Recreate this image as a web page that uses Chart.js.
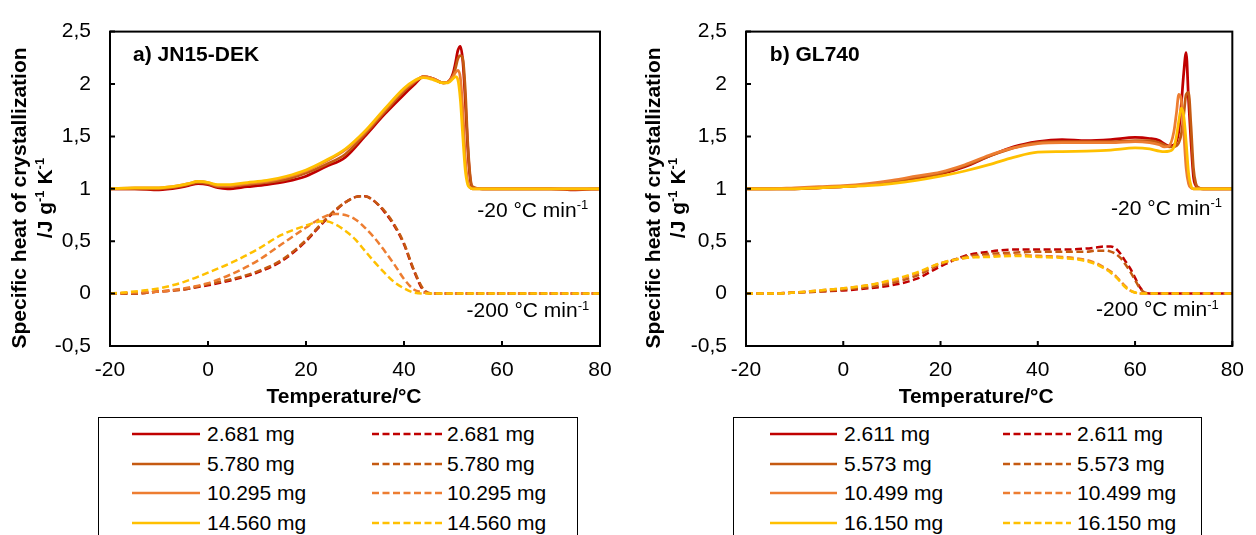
<!DOCTYPE html>
<html>
<head>
<meta charset="utf-8">
<script src="https://cdn.jsdelivr.net/npm/chart.js@4.4.1/dist/chart.umd.min.js"></script>
<style>
  html, body { margin: 0; padding: 0; background: #fff; width: 1256px; height: 535px; overflow: hidden; }
  body { position: relative; font-family: "Liberation Sans", Arial, sans-serif; }
  canvas { position: absolute; top: 0; }
  .legend { position: absolute; top: 417px; height: 140px; border: 1.5px solid #000; box-sizing: border-box; background: #fff; }
  .row { position: absolute; height: 24px; line-height: 24px; font-size: 21px; color: #000; white-space: nowrap; }
  .row svg { position: absolute; top: 9px; }
  .row span { position: absolute; top: 0; }
</style>
</head>
<body>
<canvas id="cA" width="628" height="410" style="left:0px"></canvas>
<canvas id="cB" width="628" height="410" style="left:628px"></canvas>
<div class="legend" id="legA" style="left:98px; width:480px;"></div>
<div class="legend" id="legB" style="left:733px; width:469px;"></div>
<script>
// ---------- DATA ----------
const seriesColors = ['#C00000', '#C55A11', '#ED7D31', '#FFC000'];
const massesA = ['2.681 mg', '5.780 mg', '10.295 mg', '14.560 mg'];
const massesB = ['2.611 mg', '5.573 mg', '10.499 mg', '16.150 mg'];
const xTicks = [-20, 0, 20, 40, 60, 80];
const yTicks = [-0.5, 0, 0.5, 1, 1.5, 2, 2.5];

// a) JN15-DEK, -20 °C/min (solid)
const tempA20 = [-20,-15,-10,-6,-4,-2,0,2,4,8,12,16,20,24,28,32,36,40,42,44,46,48,49,50,50.5,51,51.5,52,52.5,53,53.5,54,56,60,70,75,80];
const jn20_2681  = [1.00,1.00,0.99,1.01,1.03,1.05,1.04,1.01,1.00,1.02,1.04,1.07,1.12,1.21,1.30,1.50,1.71,1.90,1.99,2.07,2.05,2.01,2.02,2.10,2.20,2.32,2.36,2.22,1.85,1.40,1.10,1.01,1.00,1.00,1.00,0.99,1.00];
const jn20_5780  = [1.00,1.00,1.00,1.02,1.04,1.06,1.05,1.02,1.02,1.04,1.06,1.09,1.15,1.23,1.33,1.52,1.73,1.93,2.01,2.07,2.05,2.01,2.02,2.08,2.15,2.24,2.27,2.24,1.95,1.45,1.12,1.02,1.00,1.00,1.00,1.00,1.00];
const jn20_10295 = [1.00,1.01,1.01,1.03,1.05,1.07,1.06,1.03,1.03,1.05,1.07,1.11,1.17,1.26,1.37,1.54,1.75,1.95,2.02,2.07,2.05,2.01,2.02,2.07,2.11,2.13,2.06,1.75,1.30,1.07,1.01,1.00,1.00,1.00,1.00,1.00,1.00];
const jn20_14560 = [1.00,1.01,1.01,1.03,1.05,1.07,1.06,1.04,1.04,1.06,1.08,1.12,1.18,1.27,1.38,1.55,1.76,1.96,2.03,2.06,2.04,2.01,2.01,2.05,2.07,2.04,1.85,1.50,1.18,1.04,1.01,1.00,1.00,1.00,1.00,1.00,1.00];

// a) JN15-DEK, -200 °C/min (dashed)
const tempA200 = [-20,-15,-10,-5,0,5,10,15,20,22,24,26,28,30,32,34,36,38,40,42,44,46,50,60,70,80];
const jn200_2681  = [0.00,0.00,0.02,0.04,0.08,0.13,0.20,0.31,0.50,0.60,0.70,0.79,0.87,0.92,0.93,0.88,0.78,0.65,0.47,0.22,0.03,0.00,0.00,0.00,0.00,0.00];
const jn200_5780  = [0.00,0.00,0.02,0.04,0.09,0.14,0.21,0.32,0.51,0.61,0.71,0.80,0.87,0.92,0.93,0.88,0.79,0.66,0.48,0.23,0.04,0.00,0.00,0.00,0.00,0.00];
const jn200_10295 = [0.00,0.01,0.02,0.05,0.10,0.19,0.31,0.47,0.63,0.69,0.74,0.76,0.75,0.71,0.63,0.53,0.41,0.28,0.14,0.04,0.01,0.00,0.00,0.00,0.00,0.00];
const jn200_14560 = [0.00,0.02,0.05,0.11,0.20,0.30,0.42,0.56,0.65,0.68,0.69,0.66,0.60,0.52,0.41,0.30,0.20,0.11,0.05,0.01,0.00,0.00,0.00,0.00,0.00,0.00];

// b) GL740, -20 °C/min (solid)
const tempB20 = [-20,-15,-10,-5,0,5,10,15,20,25,30,35,40,45,50,55,60,63,65,66,67,68,68.5,69,69.5,70,70.5,71,71.5,72,72.5,73,74,76,80];
const gl20_2611  = [1.00,1.00,1.00,1.01,1.02,1.04,1.07,1.10,1.14,1.21,1.31,1.40,1.45,1.47,1.46,1.47,1.49,1.48,1.46,1.43,1.41,1.42,1.45,1.55,1.80,2.10,2.30,1.85,1.45,1.12,1.03,1.01,1.00,1.00,1.00];
const gl20_5573  = [1.00,1.00,1.00,1.01,1.02,1.04,1.07,1.11,1.15,1.22,1.31,1.39,1.44,1.45,1.45,1.45,1.46,1.46,1.44,1.42,1.40,1.40,1.41,1.44,1.52,1.70,1.90,1.92,1.60,1.20,1.05,1.01,1.00,1.00,1.00];
const gl20_10499 = [1.00,1.00,1.01,1.02,1.03,1.05,1.08,1.12,1.16,1.23,1.32,1.39,1.43,1.44,1.44,1.44,1.45,1.44,1.42,1.40,1.41,1.55,1.72,1.90,1.85,1.55,1.20,1.05,1.01,1.00,1.00,1.00,1.00,1.00,1.00];
const gl20_16150 = [1.00,1.00,1.00,1.01,1.02,1.03,1.05,1.08,1.12,1.17,1.23,1.30,1.35,1.355,1.36,1.37,1.39,1.38,1.36,1.355,1.36,1.40,1.50,1.65,1.77,1.70,1.45,1.15,1.03,1.00,1.00,1.00,1.00,1.00,1.00];

// b) GL740, -200 °C/min (dashed)
const tempB200 = [-20,-15,-10,-5,0,5,10,15,20,25,30,35,40,45,50,52,54,55,56,57,58,59,60,61,62,63,65,70,80];
const gl200_2611  = [0.00,0.00,0.01,0.02,0.03,0.05,0.08,0.14,0.26,0.36,0.40,0.42,0.42,0.42,0.43,0.44,0.45,0.45,0.43,0.38,0.31,0.24,0.15,0.06,0.01,0.00,0.00,0.00,0.00];
const gl200_5573  = [0.00,0.00,0.01,0.02,0.04,0.06,0.10,0.17,0.28,0.35,0.38,0.39,0.40,0.40,0.40,0.41,0.41,0.40,0.38,0.34,0.28,0.21,0.13,0.05,0.01,0.00,0.00,0.00,0.00];
const gl200_10499 = [0.00,0.00,0.01,0.03,0.05,0.08,0.12,0.19,0.29,0.34,0.36,0.37,0.36,0.35,0.32,0.29,0.24,0.21,0.17,0.12,0.07,0.03,0.01,0.00,0.00,0.00,0.00,0.00,0.00];
const gl200_16150 = [0.00,0.00,0.01,0.03,0.05,0.08,0.13,0.20,0.29,0.34,0.35,0.36,0.35,0.34,0.31,0.28,0.23,0.20,0.16,0.11,0.06,0.03,0.01,0.00,0.00,0.00,0.00,0.00,0.00];

// ---------- RENDERING ----------
const FONT = '"Liberation Sans", Arial, sans-serif';
Chart.defaults.font.family = FONT;
Chart.defaults.color = '#000';

function pts(xs, ys) { return xs.map((x, i) => ({ x: x, y: ys[i] })); }

function buildDatasets(tSolid, solids, tDash, dashes, labels) {
  const ds = [];
  solids.forEach((s, i) => ds.push({
    label: labels[i], data: pts(tSolid, s), borderColor: seriesColors[i],
    borderWidth: 2.75, pointRadius: 0, cubicInterpolationMode: 'monotone',
    borderJoinStyle: 'round', order: 10 - i
  }));
  dashes.forEach((s, i) => ds.push({
    label: labels[i], data: pts(tDash, s), borderColor: seriesColors[i],
    borderWidth: 2.5, borderDash: [7, 3.5], pointRadius: 0, cubicInterpolationMode: 'monotone',
    order: 20 - i
  }));
  return ds;
}

function drawRich(ctx, parts, x, y, align, size, weight) {
  const sup = size * 0.62;
  let total = 0;
  const widths = parts.map(p => {
    ctx.font = weight + ' ' + (p.sup ? sup : size) + 'px ' + FONT;
    const w = ctx.measureText(p.t).width; total += w; return w;
  });
  let cx = align === 'right' ? x - total : (align === 'center' ? x - total / 2 : x);
  ctx.textAlign = 'left';
  ctx.textBaseline = 'alphabetic';
  parts.forEach((p, i) => {
    ctx.font = weight + ' ' + (p.sup ? sup : size) + 'px ' + FONT;
    ctx.fillText(p.t, cx, p.sup ? y - size * 0.36 : y);
    cx += widths[i];
  });
}

const deco = {
  id: 'deco',
  afterDatasetsDraw(chart, args, o) {
    const { ctx, chartArea: a, scales: { x, y } } = chart;
    ctx.save();
    ctx.strokeStyle = '#000';
    ctx.lineWidth = 2;
    ctx.strokeRect(a.left, a.top, a.right - a.left, a.bottom - a.top);
    ctx.beginPath();
    xTicks.forEach(v => { const px = x.getPixelForValue(v); ctx.moveTo(px, a.bottom); ctx.lineTo(px, a.bottom - 5); });
    yTicks.forEach(v => { const py = y.getPixelForValue(v); ctx.moveTo(a.left, py); ctx.lineTo(a.left + 5, py); });
    ctx.stroke();
    ctx.fillStyle = '#000';
    drawRich(ctx, [{ t: o.panel }], x.getPixelForValue(o.panelAt[0]), y.getPixelForValue(o.panelAt[1]), 'left', 21, 'bold');
    o.notes.forEach(n => drawRich(ctx, n.parts, x.getPixelForValue(n.at[0]), y.getPixelForValue(n.at[1]), 'right', 21, 'normal'));
    drawRich(ctx, [{ t: 'Temperature/°C' }], (a.left + a.right) / 2 + o.xTitleDx, o.xTitleBase, 'center', 21, 'bold');
    const cy = o.yTitleCenter;
    [[o.yTitleL1, [{ t: 'Specific heat of crystallization' }]],
     [o.yTitleL2, [{ t: '/J g' }, { t: '-1', sup: true }, { t: ' K' }, { t: '-1', sup: true }]]]
      .forEach(([bx, parts]) => {
        ctx.save();
        ctx.translate(bx, cy);
        ctx.rotate(-Math.PI / 2);
        drawRich(ctx, parts, 0, 0, 'center', 21, 'bold');
        ctx.restore();
      });
    ctx.restore();
  }
};

function makeChart(id, datasets, yWidth, padRight, decoOpts) {
  return new Chart(document.getElementById(id), {
    type: 'line',
    data: { datasets: datasets },
    options: {
      responsive: false, animation: false, devicePixelRatio: 1,
      layout: { padding: { left: 0, right: padRight, top: 17, bottom: 0 } },
      plugins: { legend: { display: false }, tooltip: { enabled: false }, deco: decoOpts },
      scales: {
        x: {
          type: 'linear', min: -20, max: 80,
          afterBuildTicks: s => { s.ticks = xTicks.map(v => ({ value: v })); },
          afterFit: s => { s.height = 64; },
          grid: { display: false, drawTicks: false }, border: { display: false },
          ticks: { font: { size: 21 }, color: '#000', padding: 12, maxRotation: 0 }
        },
        y: {
          type: 'linear', min: -0.5, max: 2.5,
          afterBuildTicks: s => { s.ticks = yTicks.map(v => ({ value: v })); },
          afterFit: s => { s.width = yWidth; },
          grid: { display: false, drawTicks: false }, border: { display: false },
          ticks: { font: { size: 21 }, color: '#000', padding: 19, callback: v => String(v).replace('.', ',') }
        }
      }
    },
    plugins: [deco]
  });
}

const minus1 = { t: '-1', sup: true };
makeChart('cA',
  buildDatasets(tempA20, [jn20_2681, jn20_5780, jn20_10295, jn20_14560], tempA200, [jn200_2681, jn200_5780, jn200_10295, jn200_14560], massesA),
  110, 28,
  {
    panel: 'a) JN15-DEK', panelAt: [-15.3, 2.215],
    notes: [{ parts: [{ t: '-20 °C min' }, minus1], at: [77.6, 0.734] },
            { parts: [{ t: '-200 °C min' }, minus1], at: [77.8, -0.224] }],
    xTitleDx: -11, xTitleBase: 403, yTitleCenter: 198, yTitleL1: 26, yTitleL2: 51.5
  });
makeChart('cB',
  buildDatasets(tempB20, [gl20_2611, gl20_5573, gl20_10499, gl20_16150], tempB200, [gl200_2611, gl200_5573, gl200_10499, gl200_16150], massesB),
  118, 20,
  {
    panel: 'b) GL740', panelAt: [-15.1, 2.215],
    notes: [{ parts: [{ t: '-20 °C min' }, minus1], at: [77.9, 0.754] },
            { parts: [{ t: '-200 °C min' }, minus1], at: [77.2, -0.217] }],
    xTitleDx: -13, xTitleBase: 403, yTitleCenter: 198, yTitleL1: 660 - 628, yTitleL2: 685 - 628
  });

// ---------- LEGENDS (HTML) ----------
function buildLegend(id, labels, cols) {
  const box = document.getElementById(id);
  const rowsY = [16, 46, 75, 105];
  labels.forEach((lab, i) => {
    cols.forEach(c => {
      const row = document.createElement('div');
      row.className = 'row';
      row.style.left = '0px';
      row.style.top = (rowsY[i] - 12) + 'px';
      const w = c.x2 - c.x1;
      row.innerHTML = '<svg width="' + w + '" height="6" style="left:' + c.x1 + 'px"><line x1="0" y1="3" x2="' + w + '" y2="3" stroke="' +
        seriesColors[i] + '" stroke-width="2.6"' + (c.dash ? ' stroke-dasharray="7 3.5"' : '') + '/></svg>' +
        '<span style="left:' + c.tx + 'px">' + lab + '</span>';
      box.appendChild(row);
    });
  });
}
buildLegend('legA', massesA, [{ x1: 33, x2: 101, tx: 108, dash: false }, { x1: 273, x2: 343, tx: 348, dash: true }]);
buildLegend('legB', massesB, [{ x1: 36, x2: 103, tx: 110, dash: false }, { x1: 269, x2: 337, tx: 343, dash: true }]);
</script>
</body>
</html>
